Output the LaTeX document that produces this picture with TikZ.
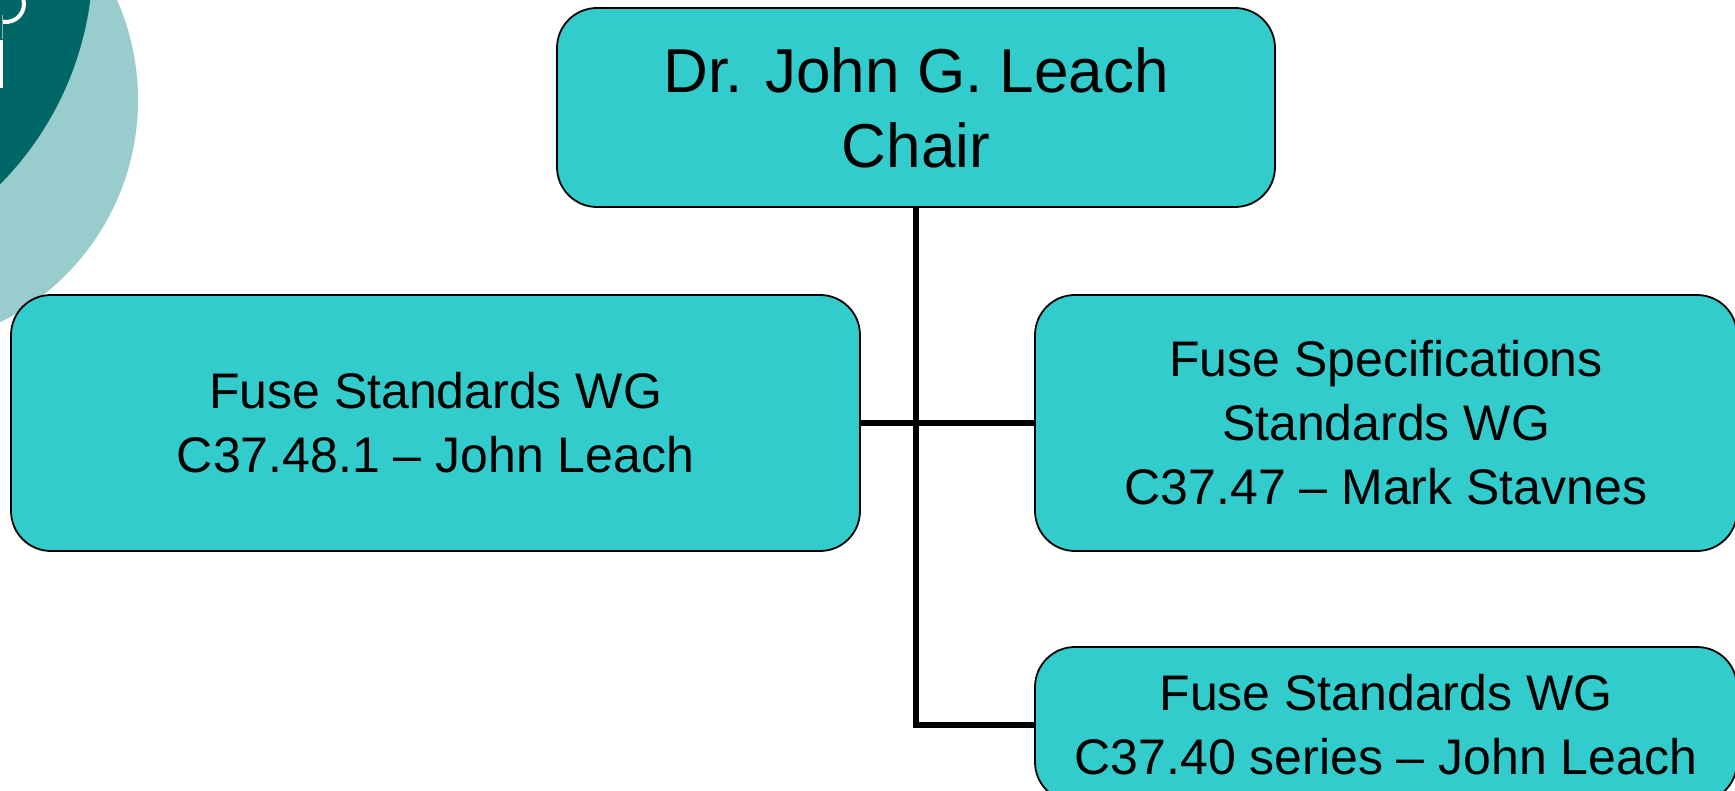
\documentclass[tikz,border=0pt]{standalone}
\usepackage{fontspec}
\setmainfont{Liberation Sans}
\definecolor{boxfill}{RGB}{51,204,204}
\definecolor{darkteal}{RGB}{0,102,102}
\definecolor{lightteal}{RGB}{153,204,204}
\begin{document}
\begin{tikzpicture}[x=1pt,y=1pt,
  orgbox/.style={draw=black, line width=1.8pt, fill=boxfill, rounded corners=40pt,
    align=center, inner sep=0pt, font=\fontsize{50}{64}\selectfont},
  link/.style={line width=6pt}]
\useasboundingbox (0,0) rectangle (1735,-791);
\clip (0,0) rectangle (1735,-791);
% background decoration
\fill[lightteal] (-110,-100) circle (248);
\fill[darkteal] (-229,42) circle (322);
\draw[white, line width=4pt] (6,-4) ++(-100:18) arc (-100:15:18);
\fill[white] (0,-40) rectangle (3,-88);
\draw[gray!70, line width=0.8pt] (2,-15) -- (2,-39);
% boxes
\node[orgbox, minimum width=718pt, minimum height=199pt,
  font=\fontsize{62}{75}\selectfont] (chair) at (916,-107.5) {Dr. John G. Leach\\Chair};
\node[orgbox, minimum width=849pt, minimum height=256pt] (wg1) at (435.5,-423)
  {Fuse Standards WG\\C37.48.1 – John Leach};
\node[orgbox, minimum width=702pt, minimum height=256pt] (wg2) at (1386,-423)
  {Fuse Specifications\\Standards WG\\C37.47 – Mark Stavnes};
\node[orgbox, minimum width=702pt, minimum height=155pt] (wg3) at (1386,-724.5)
  {Fuse Standards WG\\C37.40 series – John Leach};
% connectors
\draw[link] (chair.south) |- (wg3.west);
\draw[link] (wg1.east) -- (wg2.west);
\end{tikzpicture}
\end{document}
